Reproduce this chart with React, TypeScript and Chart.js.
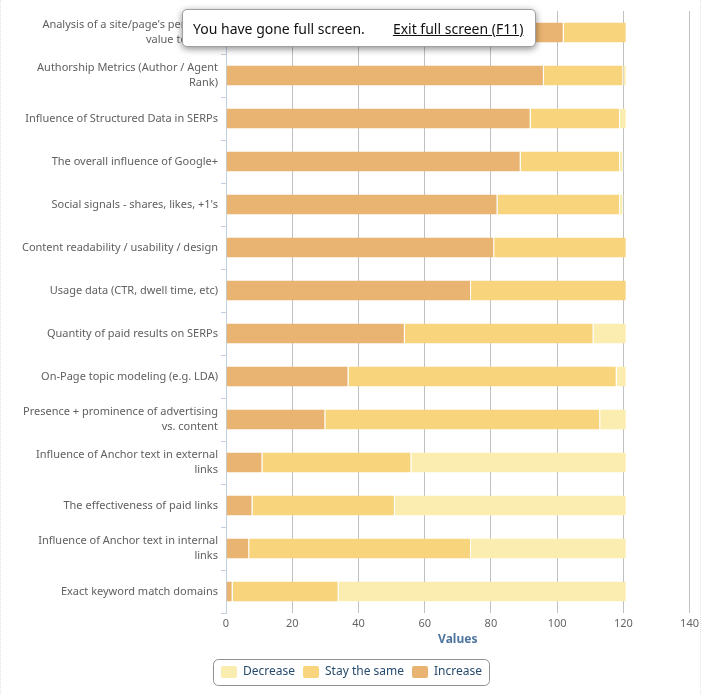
import React, { useEffect, useRef } from 'react';
import { Chart, registerables } from 'chart.js';
Chart.register(...registerables);

const categories: (string | string[])[] = [
  ["Analysis of a site/page's perceived", 'value to users'],
  ['Authorship Metrics (Author / Agent', 'Rank)'],
  'Influence of Structured Data in SERPs',
  'The overall influence of Google+',
  "Social signals - shares, likes, +1's",
  'Content readability / usability / design',
  'Usage data (CTR, dwell time, etc)',
  'Quantity of paid results on SERPs',
  'On-Page topic modeling (e.g. LDA)',
  ['Presence + prominence of advertising', 'vs. content'],
  ['Influence of Anchor text in external', 'links'],
  'The effectiveness of paid links',
  ['Influence of Anchor text in internal', 'links'],
  'Exact keyword match domains',
];
const increase = [102, 96, 92, 89, 82, 81, 74, 54, 37, 30, 11, 8, 7, 2];
const staySame = [19, 24, 27, 30, 37, 40, 47, 57, 81, 83, 45, 43, 67, 32];
const decrease = [0, 1, 2, 1, 1, 0, 0, 10, 3, 8, 65, 70, 47, 87];
const seriesNames = ['Increase', 'Stay the same', 'Decrease'];
const seriesColors = ['#E9B471', '#F8D47C', '#FBEDB0'];
const axisTitle = 'Values';

const FONT = '"Noto Sans", sans-serif';

const legendBorder = {
  id: 'legendBorder',
  afterLayout(chart: any) {
    const lg = chart.legend;
    if (!lg) return;
    lg.left += 6;
    lg.right += 6;
  },
  afterDraw(chart: any) {
    const lg = chart.legend;
    if (!lg || !lg.legendHitBoxes || !lg.legendHitBoxes.length) return;
    const hb = lg.legendHitBoxes;
    let l = Infinity, r = -Infinity, t = Infinity, b = -Infinity;
    hb.forEach((h: any) => {
      l = Math.min(l, h.left); r = Math.max(r, h.left + h.width);
      t = Math.min(t, h.top); b = Math.max(b, h.top + h.height);
    });
    const ctx = chart.ctx;
    ctx.save();
    ctx.strokeStyle = '#909090';
    ctx.lineWidth = 1;
    ctx.beginPath();
    ctx.roundRect(Math.round(l - 8) + 0.5, Math.round(t - 7) + 0.5, Math.round(r - l + 15), Math.round(b - t + 14), 5);
    ctx.stroke();
    ctx.restore();
  },
};

export default function App() {
  const ref = useRef<HTMLCanvasElement>(null);
  useEffect(() => {
    const chart = new Chart(ref.current!, {
      type: 'bar',
      data: {
        labels: categories,
        datasets: [increase, staySame, decrease].map((d, i) => ({
          label: seriesNames[i],
          data: d,
          backgroundColor: seriesColors[i],
          borderColor: '#ffffff',
          borderWidth: { top: 0, bottom: 0, left: 0, right: 1 },
          borderSkipped: false,
          barPercentage: 1,
          categoryPercentage: 20 / 43,
        })),
      },
      options: {
        indexAxis: 'y',
        animation: false,
        responsive: false,
        maintainAspectRatio: false,
        layout: { padding: { top: 11, right: 12, bottom: 6, left: 0 } },
        plugins: {
          tooltip: { enabled: false },
          legend: {
            position: 'bottom',
            reverse: true,
            labels: {
              boxWidth: 16,
              boxHeight: 12,
              padding: 8,
              useBorderRadius: true,
              borderRadius: 2,
              color: '#274b6d',
              font: { family: FONT, size: 12 },
              generateLabels(chart: any) {
                return chart.data.datasets.map((ds: any, i: number) => ({
                  text: ds.label,
                  fillStyle: ds.backgroundColor,
                  strokeStyle: ds.backgroundColor,
                  lineWidth: 0,
                  hidden: false,
                  datasetIndex: i,
                  fontColor: '#274b6d',
                  borderRadius: 2,
                }));
              },
            },
          },
        },
        scales: {
          x: {
            stacked: true,
            min: 0,
            max: 140,
            ticks: { stepSize: 20, color: '#666', padding: 4, font: { family: FONT, size: 11 } },
            grid: { color: '#C0C0C0', drawTicks: false },
            border: { display: false },
            title: {
              display: true,
              text: axisTitle,
              color: '#4d759e',
              font: { family: FONT, size: 12, weight: 'bold' },
              padding: { top: 0, bottom: 11 },
            },
            afterFit(scale: any) { scale.height = 45; },
          },
          y: {
            stacked: true,
            ticks: { color: '#606060', padding: 3, font: { family: FONT, size: 11, lineHeight: 1.3 } },
            grid: { offset: true, drawOnChartArea: false, tickLength: 5, color: '#C0D0E0' },
            border: { display: true, color: '#C0D0E0' },
            afterFit(scale: any) { scale.width = 226; },
          },
        },
      },
      plugins: [legendBorder],
    } as any);
    return () => chart.destroy();
  }, []);

  return (
    <div style={{ position: 'fixed', left: 0, top: 0, width: 703, height: 694, background: '#fff' }}>
      <canvas ref={ref} width={703} height={694} style={{ position: 'absolute', left: 0, top: 0, width: 703, height: 694 }} />
      <div style={{ position: 'absolute', left: 0, top: 0, width: 701, height: 694, borderLeft: '1px dotted #e4e4e4', borderRight: '1px dotted #e4e4e4', boxSizing: 'border-box', pointerEvents: 'none' }} />
      <div
        style={{
          position: 'absolute', left: 182, top: 9, width: 354, height: 38, boxSizing: 'border-box',
          background: '#fff', border: '1px solid #a0a0a0', borderRadius: 5,
          boxShadow: '0 2px 7px rgba(0,0,0,0.45)', display: 'flex', alignItems: 'center',
          font: '14px "Noto Sans", sans-serif', color: '#111', whiteSpace: 'nowrap',
        }}
      >
        <span style={{ marginLeft: 10 }}>You have gone full screen.</span>
        <span style={{ marginLeft: 28, textDecoration: 'underline' }}>Exit full screen (F11)</span>
      </div>
    </div>
  );
}
